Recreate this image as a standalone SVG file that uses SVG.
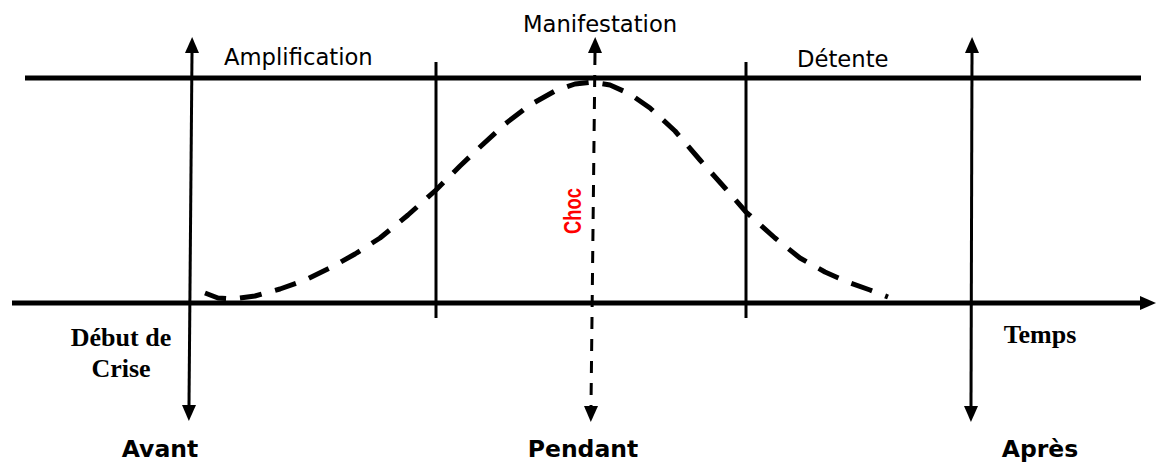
<svg xmlns="http://www.w3.org/2000/svg" width="1156" height="463" viewBox="0 0 1156 463">
<style>
.axis{stroke:#000;stroke-width:5;fill:none}
.vline{stroke:#000;stroke-width:3;fill:none}
.arr{stroke:#000;stroke-width:3;fill:none;marker-start:url(#ah);marker-end:url(#ah)}
.dash{stroke-dasharray:12 10}
.curve{stroke:#000;stroke-width:5;fill:none;stroke-dasharray:22 14}
.lbl{font-family:"DejaVu Sans",Verdana,sans-serif;font-size:22.7px;fill:#000}
.big{font-family:"DejaVu Sans",Verdana,sans-serif;font-size:23.5px;font-weight:bold;fill:#000;text-anchor:middle}
.tms{font-family:"Liberation Serif","Times New Roman",serif;font-size:26px;font-weight:bold;fill:#000;text-anchor:middle}
.choc{font-family:"Liberation Sans",Arial,sans-serif;font-size:24px;font-weight:bold;fill:#ff0000;text-anchor:middle}
</style>
<defs>
<marker id="ah" markerUnits="userSpaceOnUse" markerWidth="16" markerHeight="15" refX="0" refY="7" orient="auto-start-reverse" viewBox="0 0 16 15" overflow="visible">
<path d="M0,0 L16,7 L0,14 z" fill="#000"/>
</marker>
</defs>
<g id="connectors">
<line class="axis" x1="25" y1="78" x2="1141" y2="78"/>
<line class="axis" x1="12" y1="303" x2="1140" y2="303" style="marker-end:url(#ah)"/>
<line class="vline" x1="436" y1="62" x2="436" y2="318"/>
<line class="vline" x1="746" y1="62" x2="746" y2="318"/>
<line class="arr" x1="192" y1="53" x2="189" y2="405"/>
<line class="arr" x1="972" y1="53" x2="971" y2="406"/>
<line class="arr dash" x1="595" y1="53" x2="591" y2="406"/>
<polyline class="curve" points="205,293 218,298 232,299 255,296 280,289 305,280 330,268 355,254 380,238 408,215 436,190 460,166 480,147 505,124 530,105 555,91 575,84 592,82 610,85 630,94 650,108 675,131 700,160 725,188 746,212 775,238 800,258 825,272 850,283 870,290 888,297" stroke-linejoin="round"/>
</g>
<g id="amplification"><text class="lbl" x="224" y="65">Amplification</text></g>
<g id="manifestation"><text class="lbl" x="523" y="32">Manifestation</text></g>
<g id="detente"><text class="lbl" x="797" y="67">Détente</text></g>
<g id="choc"><text class="choc" transform="translate(581,211) rotate(-90)" x="0" y="0" textLength="46" lengthAdjust="spacingAndGlyphs">Choc</text></g>
<g id="debut"><text class="tms" x="121" y="346">Début de</text><text class="tms" x="121" y="377">Crise</text></g>
<g id="temps"><text class="tms" x="1040" y="343">Temps</text></g>
<g id="avant"><text class="big" x="160" y="457">Avant</text></g>
<g id="pendant"><text class="big" x="583" y="457">Pendant</text></g>
<g id="apres"><text class="big" x="1040" y="457">Après</text></g>
</svg>
